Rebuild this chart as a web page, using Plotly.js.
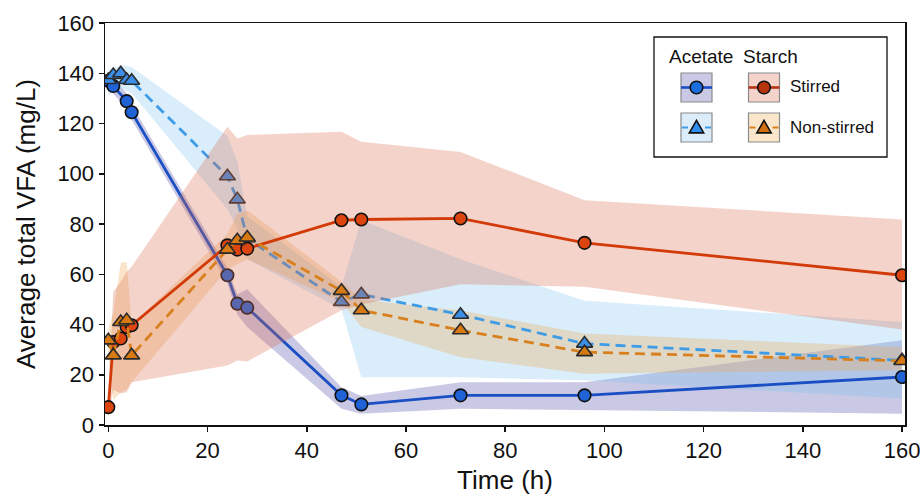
<!DOCTYPE html>
<html><head><meta charset="utf-8">
<script src="https://cdn.plot.ly/plotly-3.0.1.min.js"></script>
<style>html,body{margin:0;padding:0;background:#fff}#chart{width:922px;height:495px}</style>
</head><body><div id="chart"></div>
<script>
// ---- data (time in h, VFA in mg/L) ----
const timeAll = [0, 1, 2.5, 3.7, 4.7, 24, 26, 28, 47, 51, 71, 96, 160];
const timeAcetateStirred = [0, 1, 3.7, 4.7, 24, 26, 28, 47, 51, 71, 96, 160];

const acetateStirred   = [137, 134.9, 128.9, 124.5, 59.6, 48.3, 46.7, 11.8, 8.2, 11.8, 11.8, 19.1];
const acetateStirredLo = [134, 132, 126, 121.5, 56.5, 44, 39, 6.5, 4.5, 6.5, 5.8, 4.5];
const acetateStirredHi = [140, 138, 132, 127.5, 62.5, 52, 54, 15, 11.5, 17, 17, 33.7];

const acetateNon   = [137.3, 139.3, 140, 137.3, 137, 99.0, 89.8, 74.2, 49.0, 52.0, 43.9, 32.4, 25.7];
const acetateNonLo = [131, 133, 134, 133, 132, 86, 78, 66, 46, 19, 19, 17.8, 10.5];
const acetateNonHi = [141, 142, 143, 143, 142.5, 115, 105, 83, 55, 81.5, 66, 49.5, 41];

const starchStirred   = [7.1, 33, 34.4, 39, 39.7, 71.5, 69.8, 70.2, 81.5, 81.8, 82.2, 72.5, 59.6];
const starchStirredLo = [3, 14, 12.5, 13, 17, 23.7, 25.7, 25.3, 45.7, 48, 56, 55, 38];
const starchStirredHi = [11, 53, 57, 61, 63, 118.7, 114, 115.4, 116.7, 112.7, 108.7, 89.5, 81.8];

const starchNon   = [33.7, 27.7, 41, 41.7, 27.7, 69.8, 73.5, 74.6, 53.4, 45.7, 37.7, 29.0, 25.5];
const starchNonLo = [28, 10, 13, 14, 17, 62, 64, 66, 49, 39, 27, 20.4, 21.8];
const starchNonHi = [38, 45, 64.5, 65, 40, 76, 84, 85.5, 57, 50, 45.6, 36.4, 31];

const xTicks = [0, 20, 40, 60, 80, 100, 120, 140, 160];
const yTicks = [0, 20, 40, 60, 80, 100, 120, 140, 160];

const FONT = 'Arial, "Liberation Sans", Helvetica, sans-serif';

function band(t, lo, hi, color) {
  return {
    x: t.concat(t.slice().reverse()),
    y: hi.concat(lo.slice().reverse()),
    type: 'scatter', mode: 'lines', fill: 'toself',
    fillcolor: color, line: {width: 0, color: 'rgba(0,0,0,0)'},
    hoverinfo: 'skip'
  };
}
function series(t, y, lineColor, dash, symbol, fillColor, edge) {
  return {
    x: t, y: y, type: 'scatter', mode: 'lines+markers',
    line: {color: lineColor, width: 2.8, dash: dash},
    marker: {symbol: symbol, size: symbol === 'circle' ? 12.5 : 14,
             color: fillColor, line: {color: edge, width: 1.6}}
  };
}

const C = {
  asBand: 'rgba(100,100,180,0.35)', asLine: '#1a4fc4', asMark: '#1f63d6',
  anBand: 'rgba(120,190,240,0.28)', anLine: '#3e9be6', anMark: '#3a8ee6',
  ssBand: 'rgba(220,110,80,0.30)',  ssLine: '#d23a08', ssMark: '#dc4510',
  snBand: 'rgba(240,170,80,0.30)',  snLine: '#d8801e', snMark: '#d77a14'
};
const DASH = '10px,6px';

const traces = [
  band(timeAcetateStirred, acetateStirredLo, acetateStirredHi, C.asBand),
  band(timeAll, acetateNonLo, acetateNonHi, C.anBand),
  band(timeAll, starchNonLo, starchNonHi, C.snBand),
  series(timeAcetateStirred, acetateStirred, C.asLine, 'solid', 'circle', C.asMark, '#111'),
  series(timeAll, acetateNon, C.anLine, DASH, 'triangle-up', C.anMark, '#2a2a2a'),
  band(timeAll, starchStirredLo, starchStirredHi, C.ssBand),
  series(timeAll, starchStirred, C.ssLine, 'solid', 'circle', C.ssMark, '#111'),
  series(timeAll, starchNon, C.snLine, DASH, 'triangle-up', C.snMark, '#2a2a2a')
];

// ---- custom legend (pixel -> paper helpers) ----
const M = {l: 105, r: 17, t: 23, b: 70};
const W = 922, H = 495;
const PW = W - M.l - M.r, PH = H - M.t - M.b;
const px = v => (v - M.l) / PW;
const py = v => (H - M.b - v) / PH;

const shapes = [];
const annotations = [];
shapes.push({type: 'rect', xref: 'paper', yref: 'paper', x0: px(654), x1: px(887), y0: py(157), y1: py(37),
  fillcolor: '#fff', line: {color: '#111', width: 1.3}});

function legendPatch(cx, cy, bandCol, lineCol, dashed, symbol, markCol) {
  const hw = 15.5, hh = 14.5;
  shapes.push({type: 'rect', xref: 'paper', yref: 'paper', x0: px(cx - hw), x1: px(cx + hw), y0: py(cy + hh), y1: py(cy - hh),
    fillcolor: bandCol, line: {color: '#8a8a8a', width: 1.2}});
  if (!dashed) {
    shapes.push({type: 'line', xref: 'paper', yref: 'paper', x0: px(cx - hw), x1: px(cx + hw), y0: py(cy), y1: py(cy),
      line: {color: lineCol, width: 2.6}});
  } else {
    shapes.push({type: 'line', xref: 'paper', yref: 'paper', x0: px(cx - hw + 1), x1: px(cx - hw + 7), y0: py(cy), y1: py(cy),
      line: {color: lineCol, width: 2}});
    shapes.push({type: 'line', xref: 'paper', yref: 'paper', x0: px(cx + hw - 7), x1: px(cx + hw - 1), y0: py(cy), y1: py(cy),
      line: {color: lineCol, width: 2}});
  }
  if (symbol === 'circle') {
    const r = 6.3;
    shapes.push({type: 'circle', xref: 'paper', yref: 'paper', x0: px(cx - r), x1: px(cx + r), y0: py(cy + r), y1: py(cy - r),
      fillcolor: markCol, line: {color: '#111', width: 1.6}});
  } else {
    const s = 7.2;
    const p = `M ${px(cx)},${py(cy - s)} L ${px(cx + s)},${py(cy + s * 0.75)} L ${px(cx - s)},${py(cy + s * 0.75)} Z`;
    shapes.push({type: 'path', xref: 'paper', yref: 'paper', path: p,
      fillcolor: markCol, line: {color: '#111', width: 1.6}});
  }
}
const legendBandOpaque = {
  as: 'rgb(201,201,229)', an: 'rgb(219,237,251)', ss: 'rgb(244,211,202)', sn: 'rgb(250,230,202)'
};
legendPatch(696.5, 87.5, legendBandOpaque.as, C.asLine, false, 'circle', '#1a6ee0');
legendPatch(764, 87.5, legendBandOpaque.ss, '#b83210', false, 'circle', '#b8340c');
legendPatch(696.5, 127.5, legendBandOpaque.an, C.anLine, true, 'triangle', '#2f8ef0');
legendPatch(764, 127.5, legendBandOpaque.sn, C.snLine, true, 'triangle', '#d06e10');

function label(text, x, y, size, anchor) {
  annotations.push({text: text, xref: 'paper', yref: 'paper', x: px(x), y: py(y), showarrow: false,
    xanchor: anchor, yanchor: 'middle', font: {family: FONT, size: size, color: '#111'}});
}
label('Acetate', 700.5, 57, 19, 'center');
label('Starch', 770.5, 57, 19, 'center');
label('Stirred', 788, 86, 17, 'left');
label('Non-stirred', 788, 128, 17, 'left');

const axisCommon = {
  showgrid: false, zeroline: false, showline: true, mirror: true,
  linecolor: '#111', linewidth: 1.5, ticks: 'outside', ticklen: 5, tickwidth: 1.5, tickcolor: '#111',
  tickfont: {family: FONT, size: 22, color: '#111'}
};

const layout = {
  width: W, height: H, margin: M,
  paper_bgcolor: '#fff', plot_bgcolor: '#fff', showlegend: false,
  font: {family: FONT, color: '#111'},
  xaxis: Object.assign({}, axisCommon, {range: [-0.67, 160.6], tickvals: xTicks, ticktext: xTicks.map(String),
    title: {text: 'Time (h)', font: {family: FONT, size: 26, color: '#111'}, standoff: 12}}),
  yaxis: Object.assign({}, axisCommon, {range: [0, 160], tickvals: yTicks, ticktext: yTicks.map(String),
    title: {text: 'Average total VFA (mg/L)', font: {family: FONT, size: 26, color: '#111'}, standoff: 14}}),
  shapes: shapes, annotations: annotations
};

Plotly.newPlot('chart', traces, layout, {staticPlot: true, displayModeBar: false});
</script></body></html>
